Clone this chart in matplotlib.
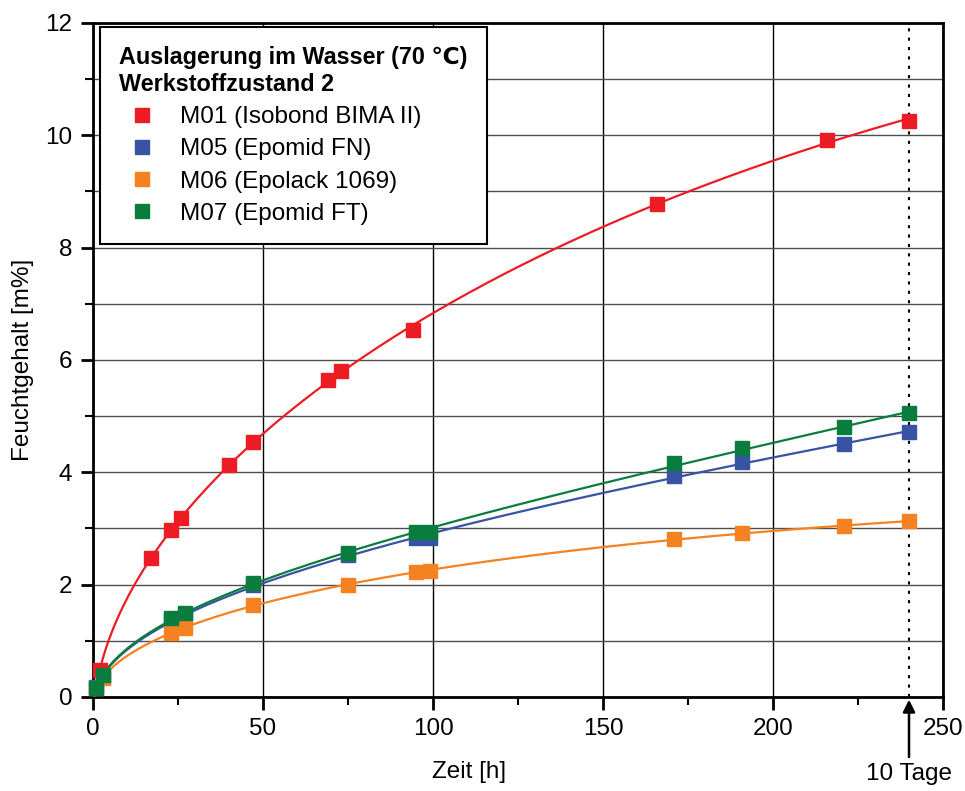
import numpy as np
import matplotlib.pyplot as plt
from matplotlib.ticker import MultipleLocator

plt.rcParams['font.family'] = ['Liberation Sans', 'DejaVu Sans']

# DATEN
zeit_m01 = [2, 17, 23, 26, 40, 47, 69, 73, 94, 166, 216, 240]
feucht_m01 = [0.48, 2.47, 2.98, 3.18, 4.12, 4.53, 5.65, 5.80, 6.54, 8.78, 9.92, 10.26]

zeit_m = [1, 3, 23, 27, 47, 75, 95, 99, 171, 191, 221, 240]
feucht_m05 = [0.18, 0.36, 1.36, 1.44, 2.00, 2.52, 2.83, 2.83, 3.93, 4.19, 4.51, 4.71]
feucht_m06 = [0.16, 0.34, 1.14, 1.23, 1.64, 2.00, 2.22, 2.24, 2.81, 2.92, 3.04, 3.13]
feucht_m07 = [0.16, 0.39, 1.40, 1.49, 2.03, 2.56, 2.93, 2.94, 4.16, 4.44, 4.80, 5.05]

namen = ["M01 (Isobond BIMA II)", "M05 (Epomid FN)", "M06 (Epolack 1069)", "M07 (Epomid FT)"]
farben = ["#ED1C24", "#3953A4", "#F58220", "#0A7D3E"]

serien = [(zeit_m01, feucht_m01), (zeit_m, feucht_m05), (zeit_m, feucht_m06), (zeit_m, feucht_m07)]

fig = plt.figure(figsize=(9.65, 7.91), dpi=100)
ax = fig.add_axes([0.0964, 0.119, 0.8808, 0.852])

t_fein = np.linspace(0.3, 240, 400)
for (t, f), name, c in zip(serien, namen, farben):
    # Ausgleichskurve als Polynom in sqrt(t)
    koef = np.polyfit(np.sqrt(t), f, 3)
    ax.plot(t_fein, np.polyval(koef, np.sqrt(t_fein)), color=c, lw=1.6, zorder=3)
    ax.plot(t, f, 's', color=c, ms=10, mec=c, label=name, zorder=4, clip_on=False)

ax.axvline(240, color='black', ls=(0, (1.5, 3)), lw=1.5, zorder=2)

ax.set_xlim(0, 250)
ax.set_ylim(0, 12)
ax.xaxis.set_major_locator(MultipleLocator(50))
ax.xaxis.set_minor_locator(MultipleLocator(25))
ax.yaxis.set_major_locator(MultipleLocator(2))
ax.yaxis.set_minor_locator(MultipleLocator(1))
ax.grid(which='major', axis='x', color='black', lw=1)
ax.grid(which='both', axis='y', color='0.3', lw=1)
ax.set_axisbelow(True)
for s in ax.spines.values():
    s.set_linewidth(2)
ax.tick_params(which='major', direction='out', length=9, width=2, labelsize=17.5, pad=6)
ax.tick_params(which='minor', direction='out', length=6, width=1.5)

ax.set_xlabel('Zeit [h]', fontsize=17.5)
ax.xaxis.set_label_coords(0.442, -0.095)
ax.set_ylabel('Feuchtgehalt [m%]', fontsize=17.5)
ax.yaxis.set_label_coords(-0.07, 0.5)

ax.annotate('10 Tage', xy=(240, -0.05), xytext=(240, -1.17), fontsize=17.5,
            ha='center', va='top', annotation_clip=False,
            arrowprops=dict(arrowstyle='-|>', color='black', lw=1.8, mutation_scale=18,
                            shrinkA=2, shrinkB=0))

leg = ax.legend(loc='upper left', bbox_to_anchor=(0.008, 0.994), fontsize=17.5,
                title='Auslagerung im Wasser (70 \u2103)\nWerkstoffzustand 2',
                title_fontproperties={'weight': 'bold', 'size': 16.8},
                alignment='left', fancybox=False, edgecolor='black', framealpha=1,
                handlelength=1.9, handletextpad=0.6, labelspacing=0.42, borderpad=0.8,
                borderaxespad=0)
leg.get_frame().set_linewidth(1.5)

fig.savefig('out.png', dpi=100)
